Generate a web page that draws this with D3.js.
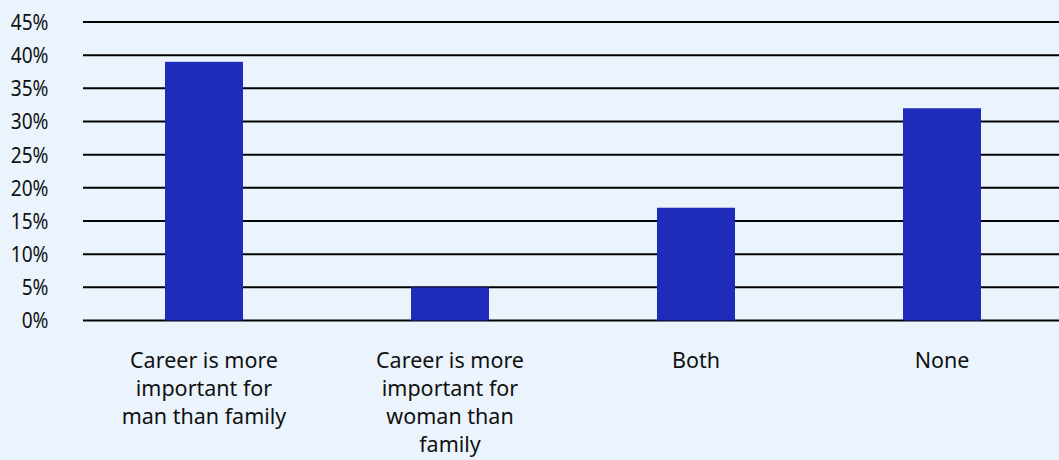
<!DOCTYPE html>
<html>
<head>
<meta charset="utf-8">
<script src="https://cdn.jsdelivr.net/npm/d3@7"></script>
<style>
  html, body { margin: 0; padding: 0; background: #ebf4fd; }
  svg { display: block; font-family: "Noto Sans", "Open Sans", sans-serif; }
</style>
</head>
<body>
<svg id="chart" width="1059" height="460"></svg>
<script>
const categories = [
  "Career is more important for man than family",
  "Career is more important for woman than family",
  "Both",
  "None"
];
const categoryLines = [
  ["Career is more", "important for", "man than family"],
  ["Career is more", "important for", "woman than", "family"],
  ["Both"],
  ["None"]
];
const values = [39, 5, 17, 32];
const yTicks = [0, 5, 10, 15, 20, 25, 30, 35, 40, 45];

const svg = d3.select("#chart");
const W = 1059, H = 460;
svg.append("rect").attr("width", W).attr("height", H).attr("fill", "#ebf4fd");

const x = d3.scaleBand()
  .domain(categories)
  .range([81, 1065])
  .paddingInner(0.683)
  .paddingOuter(0.3415);

const y = d3.scaleLinear().domain([0, 45]).range([320.5, 22]);

// gridlines
svg.append("g").selectAll("line")
  .data(yTicks)
  .join("line")
  .attr("x1", 83).attr("x2", W)
  .attr("y1", d => y(d)).attr("y2", d => y(d))
  .attr("stroke", "#000").attr("stroke-width", 2);

// y labels (slightly condensed)
const sx = 0.87;
svg.append("g")
  .attr("transform", `scale(${sx},1)`)
  .selectAll("text")
  .data(yTicks)
  .join("text")
  .attr("x", 48.5 / sx)
  .attr("y", d => y(d))
  .attr("dy", "0.36em")
  .attr("text-anchor", "end")
  .attr("font-size", 22)
  .attr("fill", "#111")
  .text(d => d + "%");

// bars
svg.append("g").selectAll("rect")
  .data(values)
  .join("rect")
  .attr("x", (d, i) => x(categories[i]))
  .attr("width", x.bandwidth())
  .attr("y", d => y(d))
  .attr("height", d => y(0) - y(d))
  .attr("fill", "#1f2cbb");

// category labels
const lab = svg.append("g").selectAll("text")
  .data(categories)
  .join("text")
  .attr("text-anchor", "middle")
  .attr("font-size", 21.5)
  .attr("fill", "#111")
  .attr("transform", d => `translate(${x(d) + x.bandwidth() / 2},367.5)`);
lab.each(function(d, i) {
  d3.select(this).selectAll("tspan")
    .data(categoryLines[i])
    .join("tspan")
    .attr("x", 0)
    .attr("y", (t, j) => j * 28.3)
    .text(t => t);
});
</script>
</body>
</html>
